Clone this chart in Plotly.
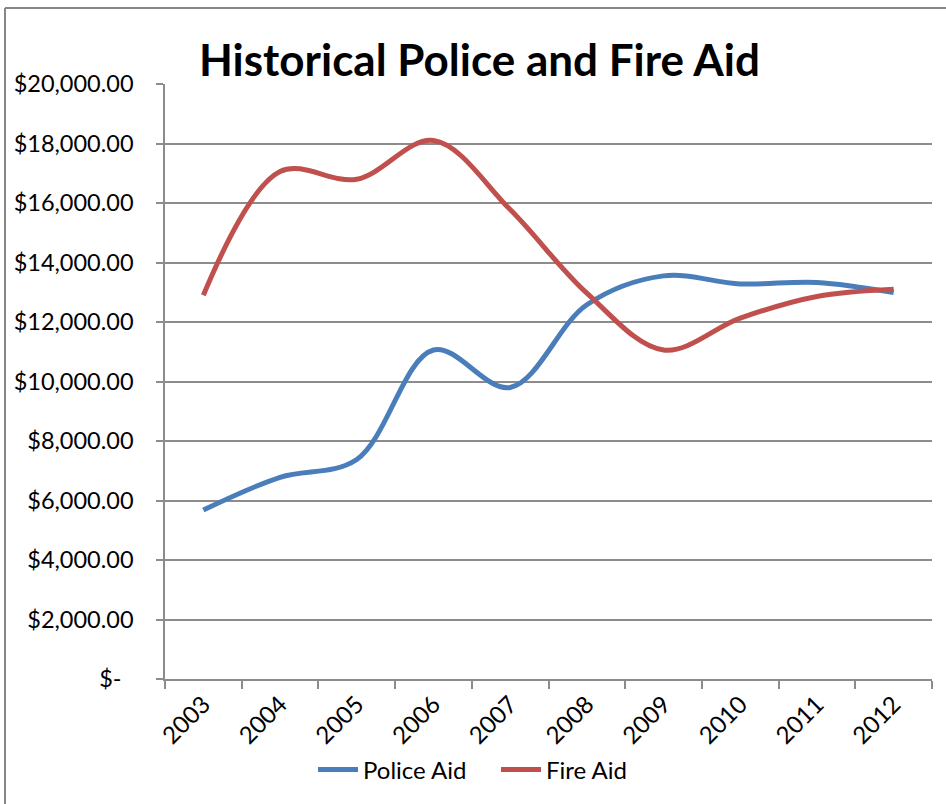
import plotly.graph_objects as go

# Annual aid amounts (USD)
years = ["2003", "2004", "2005", "2006", "2007", "2008", "2009", "2010", "2011", "2012"]
police_aid = [5680, 6780, 7380, 11060, 9800, 12580, 13550, 13280, 13330, 12990]
fire_aid = [12900, 17060, 16800, 18100, 15780, 12970, 11060, 12130, 12860, 13100]

y_ticks = [0, 2000, 4000, 6000, 8000, 10000, 12000, 14000, 16000, 18000, 20000]
y_tick_text = ["$-\u00a0\u00a0"] + [f"${v:,.2f}" for v in y_ticks[1:]]

BLUE = "#4A7EBB"
RED = "#C0504D"
GRID = "#8C8C8C"
FONT = "Lato, Open Sans, sans-serif"

W, H = 946, 804
L, R, T, B = 165, 14, 84, 125

fig = go.Figure()
fig.add_trace(go.Scatter(
    x=years, y=police_aid, name="Police Aid", mode="lines",
    line=dict(color=BLUE, width=5, shape="spline", smoothing=1.0),
))
fig.add_trace(go.Scatter(
    x=years, y=fire_aid, name="Fire Aid", mode="lines",
    line=dict(color=RED, width=5, shape="spline", smoothing=1.0),
))

plot_w = W - L - R
plot_h = H - T - B


def px_x(px):
    return (px - L) / plot_w


def px_y(py):
    return (H - B - py) / plot_h


# outer chart frame (top and left edges visible)
fig.add_shape(type="line", xref="paper", yref="paper",
              x0=px_x(5), x1=px_x(W + 5), y0=px_y(8), y1=px_y(8),
              line=dict(color="#868686", width=2))
fig.add_shape(type="line", xref="paper", yref="paper",
              x0=px_x(5), x1=px_x(5), y0=px_y(8), y1=px_y(H + 5),
              line=dict(color="#868686", width=2))

fig.add_annotation(
    text="<b>Historical Police and Fire Aid</b>",
    xref="paper", yref="paper", x=px_x(479), y=px_y(59),
    xanchor="center", yanchor="middle", showarrow=False,
    font=dict(family=FONT, size=44, color="#000000"),
)

fig.update_layout(
    width=W, height=H,
    margin=dict(l=L, r=R, t=T, b=B),
    paper_bgcolor="white", plot_bgcolor="white",
    font=dict(family=FONT, size=23, color="#000000"),
    showlegend=True,
    legend=dict(
        orientation="h", xref="paper", yref="paper",
        x=px_x(313), y=px_y(770), xanchor="left", yanchor="middle",
        font=dict(family=FONT, size=24, color="#000000"),
        bgcolor="rgba(0,0,0,0)", itemwidth=40, tracegroupgap=0,
        entrywidth=128, entrywidthmode="pixels",
    ),
)

fig.update_xaxes(
    type="category", range=[-0.5, 9.5],
    tickson="boundaries", ticks="outside", ticklen=8, tickwidth=1.5, tickcolor=GRID,
    showline=True, linecolor=GRID, linewidth=1.5,
    showgrid=False, tickangle=-45,
    tickfont=dict(family=FONT, size=24, color="#000000"),
)
fig.update_yaxes(
    range=[0, 20000], tickvals=y_ticks, ticktext=y_tick_text,
    ticks="outside", ticklen=7, tickwidth=1.5, tickcolor=GRID,
    showline=True, linecolor=GRID, linewidth=1.5,
    showgrid=True, gridcolor=GRID, gridwidth=1.5,
    zeroline=False, ticklabelstandoff=18,
    tickfont=dict(family=FONT, size=23.5, color="#000000"),
)

fig.write_html("out.html")
